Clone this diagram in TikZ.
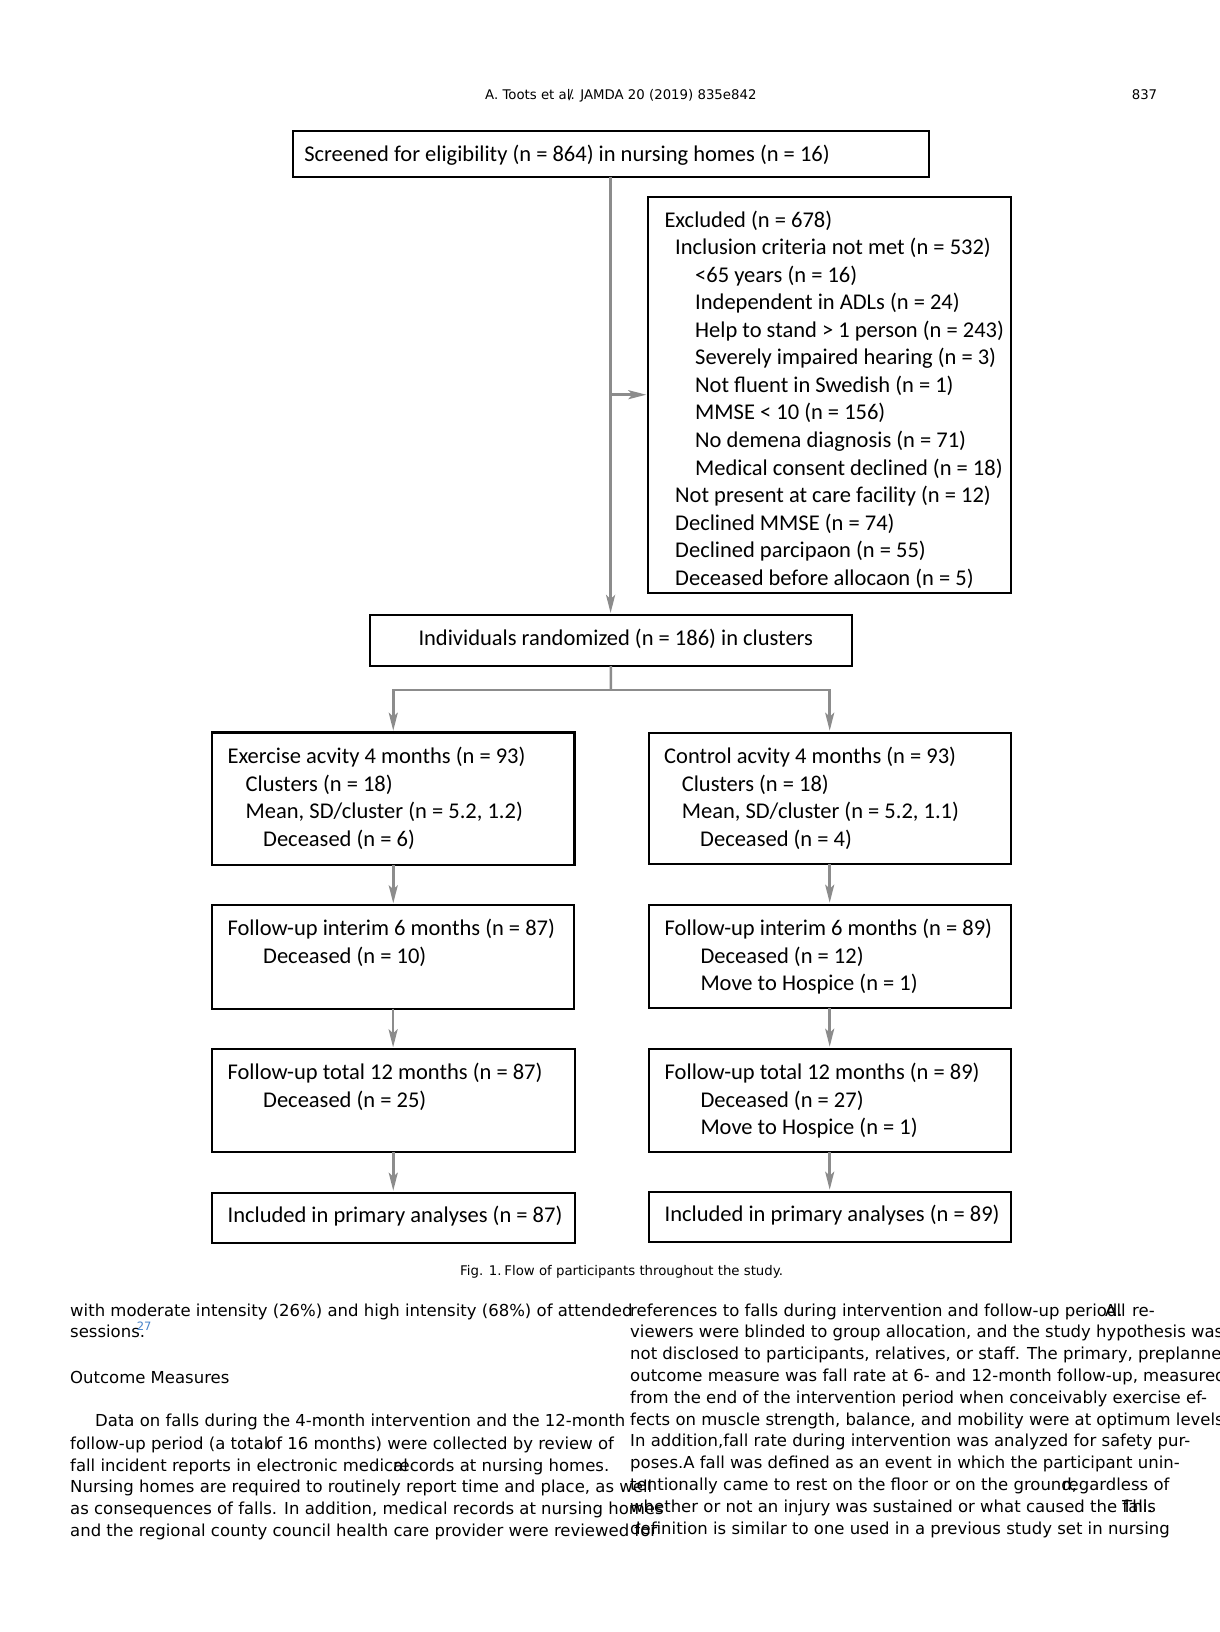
\documentclass[tikz,border=0pt]{standalone}
\usepackage{fontspec}
\setmainfont{DejaVu Sans}
\newfontfamily\fcfont{Carlito}
\newfontfamily\djvfont{DejaVu Sans}
\usetikzlibrary{arrows.meta}
\definecolor{connc}{RGB}{140,140,140}
\definecolor{refblue}{RGB}{70,130,200}
\newcommand\myfc{\fcfont\fontsize{22.5pt}{27.6pt}\selectfont}
\newcommand\mybody{\djvfont\fontsize{16.5pt}{21.8pt}\selectfont}
\newcommand\mysmall{\djvfont\fontsize{13.3pt}{16pt}\selectfont}
\begin{document}
\begin{tikzpicture}[x=1pt,y=-1pt,
  box/.style={draw=black, line width=2pt, inner sep=0pt, outer sep=0pt, anchor=north west},
  fct/.style={font=\myfc, inner sep=0pt, anchor=base west, yshift=-2pt},
  bt/.style={font=\mybody, inner sep=0pt, anchor=base west},
  st/.style={font=\mysmall, inner sep=0pt, anchor=base west},
  conn/.style={draw=connc, line width=2.5pt},
  arr/.style={conn, -{Stealth[length=18pt,width=9pt,inset=4pt]}, shorten >=2pt}]
\useasboundingbox (0,0) rectangle (1219,1632);
\fill[white] (0,0) rectangle (1219,1632);

% header
\node[st] (hdr) at (485,99.7) {A. Toots et al\rlap{\kern-0.14em/}. JAMDA 20 (2019) 835e842};
\node[st] (pg) at (1131.6,99.7) {837};

% boxes
\node[box, minimum width=636pt, minimum height=46pt] (scr) at (292.6,130.7) {};
\node[box, minimum width=363pt, minimum height=396pt] (exc) at (648.3,196.7) {};
\node[box, minimum width=481.7pt, minimum height=51pt] (rand) at (370,615) {};
\node[box, minimum width=362.5pt, minimum height=132.3pt, line width=2.6pt] (ex) at (212,732.7) {};
\node[box, minimum width=362pt, minimum height=131.6pt] (ctl) at (648.7,732.7) {};
\node[box, minimum width=362.2pt, minimum height=103.4pt] (int1) at (212,905.3) {};
\node[box, minimum width=362pt, minimum height=103.3pt] (int2) at (648.7,904.7) {};
\node[box, minimum width=362.5pt, minimum height=103pt] (tot1) at (212,1049.3) {};
\node[box, minimum width=362pt, minimum height=103.6pt] (tot2) at (648.7,1048.7) {};
\node[box, minimum width=362.5pt, minimum height=50.6pt] (inc1) at (212,1192.7) {};
\node[box, minimum width=362pt, minimum height=50.6pt] (inc2) at (648.7,1191.7) {};

% box texts
\node[fct] (t-scr) at (304.1,159.5) {Screened for eligibility (n = 864) in nursing homes (n = 16)};

\node[fct] (e0) at (664.3,225.0) {Excluded (n = 678)};
\node[fct] (e1) at (675,252.6) {Inclusion criteria not met (n = 532)};
\node[fct] (e2) at (695,280.1) {<65 years (n = 16)};
\node[fct] (e3) at (695,307.7) {Independent in ADLs (n = 24)};
\node[fct] (e4) at (695,335.2) {Help to stand > 1 person (n = 243)};
\node[fct] (e5) at (695,362.8) {Severely impaired hearing (n = 3)};
\node[fct] (e6) at (695,390.3) {Not fluent in Swedish (n = 1)};
\node[fct] (e7) at (695,417.9) {MMSE < 10 (n = 156)};
\node[fct] (e8) at (695,445.4) {No demena diagnosis (n = 71)};
\node[fct] (e9) at (695,473.0) {Medical consent declined (n = 18)};
\node[fct] (e10) at (675,500.5) {Not present at care facility (n = 12)};
\node[fct] (e11) at (675,528.1) {Declined MMSE (n = 74)};
\node[fct] (e12) at (675,555.6) {Declined parcipaon (n = 55)};
\node[fct] (e13) at (675,583.2) {Deceased before allocaon (n = 5)};

\node[fct] (t-rand) at (418.3,643.3) {Individuals randomized (n = 186) in clusters};

\node[fct] (x0) at (227.4,761.7) {Exercise acvity 4 months (n = 93)};
\node[fct] (x1) at (245.5,789.3) {Clusters (n = 18)};
\node[fct] (x2) at (245.5,816.7) {Mean, SD/cluster (n = 5.2, 1.2)};
\node[fct] (x3) at (263,844.3) {Deceased (n = 6)};

\node[fct] (c0) at (664,761.7) {Control acvity 4 months (n = 93)};
\node[fct] (c1) at (681.6,789.3) {Clusters (n = 18)};
\node[fct] (c2) at (681.6,816.7) {Mean, SD/cluster (n = 5.2, 1.1)};
\node[fct] (c3) at (700,844.3) {Deceased (n = 4)};

\node[fct] (i10) at (227.4,933.3) {Follow-up interim 6 months (n = 87)};
\node[fct] (i11) at (263,961) {Deceased (n = 10)};
\node[fct] (i20) at (664.5,933.3) {Follow-up interim 6 months (n = 89)};
\node[fct] (i21) at (700.3,961) {Deceased (n = 12)};
\node[fct] (i22) at (700.3,988.3) {Move to Hospice (n = 1)};

\node[fct] (o10) at (227.4,1077.3) {Follow-up total 12 months (n = 87)};
\node[fct] (o11) at (263,1105) {Deceased (n = 25)};
\node[fct] (o20) at (664.5,1077.3) {Follow-up total 12 months (n = 89)};
\node[fct] (o21) at (700.3,1105) {Deceased (n = 27)};
\node[fct] (o22) at (700.3,1132.3) {Move to Hospice (n = 1)};

\node[fct] (n10) at (227.4,1220) {Included in primary analyses (n = 87)};
\node[fct] (n20) at (664.5,1219) {Included in primary analyses (n = 89)};

% connectors
\draw[arr] (scr.south) -- (scr.south |- rand.north);
\draw[arr] (scr.south |- exc.west) -- (exc.west);
\coordinate (split) at (610.8,690);
\draw[conn] (rand.south) -- (split);
\draw[arr] (split) -| (ex.north);
\draw[arr] (split) -| (ctl.north);
\draw[arr] (ex.south) -- (ex.south |- int1.north);
\draw[arr] (ctl.south) -- (ctl.south |- int2.north);
\draw[arr] (int1.south) -- (int1.south |- tot1.north);
\draw[arr] (int2.south) -- (int2.south |- tot2.north);
\draw[arr] (tot1.south) -- (tot1.south |- inc1.north);
\draw[arr] (tot2.south) -- (tot2.south |- inc2.north);

% caption
\node[st] (cap) at (460,1275) {Fig. 1.\kern-0.1em\ Flow of participants throughout the study.};

% body text, left column
\node[bt] (b1) at (70,1316) {with moderate intensity (26\%) and high intensity (68\%) of attended};
\node[bt] (b2) at (70,1337.7) {sessions.};
\node[inner sep=0pt, anchor=base west, font=\djvfont\fontsize{11.5pt}{13pt}\selectfont, text=refblue] (b2s) at (136.7,1330) {27};
\node[bt] (b3) at (70,1383.3) {Outcome Measures};
\node[bt] (b4) at (95,1426.7) {Data on falls during the 4-month intervention and the 12-month};
\node[bt] (b5a) at (70,1449) {follow-up period (a total};
\node[bt] (b5b) at (266,1449) {of 16 months) were collected by review of};
\node[bt] (b6a) at (70,1471) {fall incident reports in electronic medical};
\node[bt] (b6b) at (393,1471) {records at nursing homes.};
\node[bt] (b7) at (70,1492.7) {Nursing homes are required to routinely report time and place, as well};
\node[bt] (b8) at (70,1514.3) {as consequences of falls. In addition, medical records at nursing homes};
\node[bt] (b9) at (70,1536) {and the regional county council health care provider were reviewed for};

% body text, right column
\node[bt] (r1) at (630,1316) {references to falls during intervention and follow-up period.};
\node[bt] (r1b) at (1105,1316) {All};
\node[bt] (r1c) at (1132,1316) {re-};
\node[bt] (r2) at (630,1337.8) {viewers were blinded to group allocation, and the study hypothesis was};
\node[bt] (r3) at (630,1359.6) {not disclosed to participants, relatives, or staff. The primary, preplanned};
\node[bt] (r4) at (630,1381.4) {outcome measure was fall rate at 6- and 12-month follow-up, measured};
\node[bt] (r5) at (630,1403.2) {from the end of the intervention period when conceivably exercise ef-};
\node[bt] (r6) at (630,1425) {fects on muscle strength, balance, and mobility were at optimum levels.};
\node[bt] (r7) at (630,1446.8) {In addition,fall rate during intervention was analyzed for safety pur-};
\node[bt] (r8) at (630,1468.6) {poses.A fall was defined as an event in which the participant unin-};
\node[bt] (r9a) at (630,1490.4) {tentionally came to rest on the floor or on the ground,};
\node[bt] (r9b) at (1062,1490.4) {regardless of};
\node[bt] (r10a) at (630,1512.2) {whether or not an injury was sustained or what caused the fall.};
\node[bt] (r10b) at (1122,1512.2) {This};
\node[bt] (r11) at (630,1534) {definition is similar to one used in a previous study set in nursing};
\end{tikzpicture}
\end{document}
